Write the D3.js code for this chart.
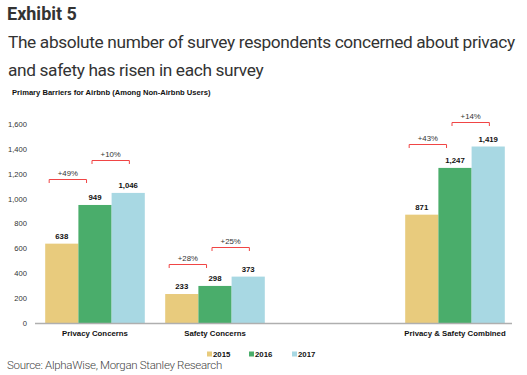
<!DOCTYPE html>
<html><head><meta charset="utf-8">
<script src="https://cdn.jsdelivr.net/npm/d3@7"></script>
<style>
html,body{margin:0;padding:0;background:#fff;}
svg{display:block;}
</style></head>
<body>
<script>
const categories = ["Privacy Concerns", "Safety Concerns", "", "Privacy & Safety Combined"];
const years = ["2015", "2016", "2017"];
const values2015 = [638, 233, null, 871];
const values2016 = [949, 298, null, 1247];
const values2017 = [1046, 373, null, 1419];
const yTicks = [0, 200, 400, 600, 800, 1000, 1200, 1400, 1600];
// growth annotations: [category, from-series index, label, bracket level (data units)]
const growthLabels = [
  ["Privacy Concerns", 0, "+49%", 1160],
  ["Privacy Concerns", 1, "+10%", 1310],
  ["Safety Concerns", 0, "+28%", 474],
  ["Safety Concerns", 1, "+25%", 609],
  ["Privacy & Safety Combined", 0, "+43%", 1437],
  ["Privacy & Safety Combined", 1, "+14%", 1614]
];
const colors = ["#E8CB7D", "#4AAD6B", "#A8D8E3"];
const series = [values2015, values2016, values2017];

const W = 527, H = 375;
const svg = d3.select("body").append("svg").attr("width", W).attr("height", H);

svg.append("text").attr("x", 7).attr("y", 20).text("Exhibit 5")
  .attr("font-family", "Roboto").attr("font-weight", 700).attr("font-size", 18).attr("fill", "#333");
svg.append("text").attr("x", 8).attr("y", 48)
  .text("The absolute number of survey respondents concerned about privacy")
  .attr("font-family", "Roboto").attr("font-size", 17.3).attr("fill", "#333").attr("letter-spacing", -0.36);
svg.append("text").attr("x", 8).attr("y", 76)
  .text("and safety has risen in each survey")
  .attr("font-family", "Roboto").attr("font-size", 17.3).attr("fill", "#333").attr("letter-spacing", -0.36);
svg.append("text").attr("x", 12).attr("y", 95)
  .text("Primary Barriers for Airbnb (Among Non-Airbnb Users)")
  .attr("font-family", "Liberation Sans, Arial").attr("font-weight", 700).attr("font-size", 7.6).attr("fill", "#111");

const x0 = d3.scaleBand().domain(categories).range([35, 515]).paddingInner(0.17).paddingOuter(0.085);
const x1 = d3.scaleBand().domain(years).range([0, x0.bandwidth()]).padding(0);
const y = d3.scaleLinear().domain([0, 1600]).range([323, 124]);

// y axis labels
const yAxis = d3.axisLeft(y).tickValues(yTicks).tickSize(0).tickPadding(0).tickFormat(d3.format(","));
const ga = svg.append("g").attr("transform", "translate(27,0)").call(yAxis);
ga.select(".domain").remove();
ga.selectAll("text").attr("font-family", "Liberation Sans, Arial").attr("font-size", 7.6).attr("fill", "#333");

// bars
categories.forEach((c, ci) => {
  if (!c) return;
  series.forEach((s, si) => {
    const v = s[ci];
    const bx = x0(c) + x1(years[si]);
    svg.append("rect").attr("x", bx).attr("y", y(v)).attr("width", x1.bandwidth()).attr("height", y(0) - y(v))
      .attr("fill", colors[si]);
    svg.append("text").attr("x", bx + x1.bandwidth() / 2).attr("y", y(v) - 5)
      .attr("text-anchor", "middle").text(d3.format(",")(v))
      .attr("font-family", "Liberation Sans, Arial").attr("font-weight", 700).attr("font-size", 7.8).attr("fill", "#111");
  });
});

// x axis line
svg.append("line").attr("x1", 35).attr("x2", 512).attr("y1", y(0) + 0.5).attr("y2", y(0) + 0.5)
  .attr("stroke", "#AFAFAF").attr("stroke-width", 1.6);
const xAxis = d3.axisBottom(x0).tickSize(0).tickPadding(0);
const gx = svg.append("g").attr("transform", `translate(0,${y(0) + 12.5})`).call(xAxis);
gx.select(".domain").remove();
gx.selectAll("text").attr("font-family", "Liberation Sans, Arial").attr("font-weight", 700).attr("font-size", 7.8).attr("fill", "#111").attr("dy", 0);

// growth brackets
growthLabels.forEach(([c, si, label, level]) => {
  const bw = x0.bandwidth();
  const xa = x0(c) + (si === 0 ? 0.04 : 0.47) * bw;
  const xb = xa + 0.375 * bw;
  const yy = Math.round(y(level)) + 0.5;
  svg.append("path").attr("d", `M${xa},${yy + 3.5}V${yy}H${xb}V${yy + 3.5}`)
    .attr("fill", "none").attr("stroke", "#F04545").attr("stroke-width", 1);
  svg.append("text").attr("x", (xa + xb) / 2).attr("y", yy - 3.5).attr("text-anchor", "middle").text(label)
    .attr("font-family", "Liberation Sans, Arial").attr("font-size", 7.8).attr("fill", "#333");
});

// legend
const legX = [207, 249, 292];
years.forEach((yr, i) => {
  svg.append("rect").attr("x", legX[i]).attr("y", 351.5).attr("width", 5).attr("height", 5).attr("fill", colors[i]);
  svg.append("text").attr("x", legX[i] + 6).attr("y", 357).text(yr)
    .attr("font-family", "Liberation Sans, Arial").attr("font-weight", 700).attr("font-size", 7.8).attr("fill", "#111");
});

svg.append("text").attr("x", 7).attr("y", 368.5).text("Source: AlphaWise, Morgan Stanley Research")
  .attr("font-family", "Roboto").attr("font-weight", 300).attr("font-size", 11.5).attr("fill", "#444").attr("letter-spacing", -0.3);
</script>
</body></html>
